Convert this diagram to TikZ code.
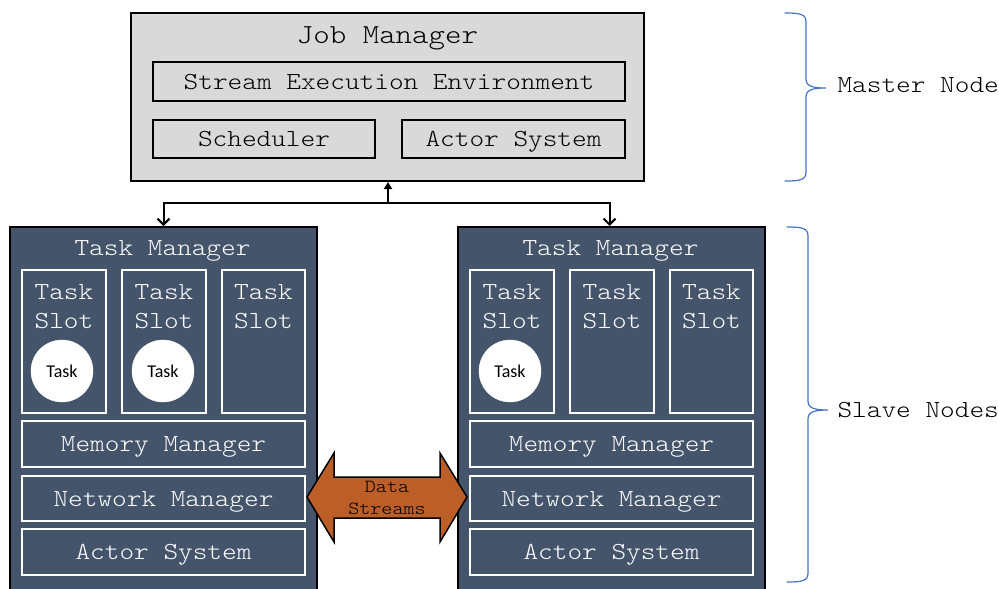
\documentclass[tikz,border=0pt]{standalone}
\usepackage{fontspec}
\setmonofont{Latin Modern Mono Light}[FakeStretch=1.14]
\newfontfamily\calfont{Carlito}
\usetikzlibrary{arrows.meta}
\definecolor{slate}{HTML}{44546A}
\definecolor{jmgray}{HTML}{D9D9D9}
\definecolor{streamorange}{RGB}{188,94,40}
\definecolor{braceblue}{HTML}{4472C4}
\begin{document}
\begin{tikzpicture}[x=1pt,y=-1pt,
  mono/.style={font=\ttfamily\fontsize{#1}{#1}\selectfont, text height=0.7*#1pt, text depth=0.08*#1pt},
  jmbox/.style={draw=black, line width=2pt, fill=jmgray, inner sep=0pt},
  jmpart/.style={draw=black, line width=2pt, fill=jmgray, inner sep=0pt, mono=24.5},
  tmbox/.style={draw=black, line width=2pt, fill=slate, inner sep=0pt},
  tmpart/.style={draw=white, line width=2pt, fill=slate, inner sep=0pt, text=white, mono=24.5},
  slotlabel/.style={text=white, align=center, font=\ttfamily\fontsize{24.5}{29}\selectfont},
  taskcirc/.style={circle, fill=white, draw=white, minimum size=62pt, inner sep=0pt,
    font=\calfont\fontsize{18}{18}\selectfont},
  link/.style={line width=2pt, black},
  brace/.style={draw=braceblue, line width=1.2pt, line cap=round},
  sidelabel/.style={anchor=west, mono=24.5}
]
\clip (0,0) rectangle (999,589);
\useasboundingbox (0,0) rectangle (999,589);

% Job manager
\node[jmbox, minimum width=513pt, minimum height=168pt] (jm) at (387.5,97) {};
\node[mono=27.5] (jmtitle) at (387.5,35) {Job Manager};
\node[jmpart, minimum width=472pt, minimum height=39pt] (see) at (389,81.5) {Stream Execution Environment};
\node[jmpart, minimum width=222pt, minimum height=38pt] (sched) at (264,139) {Scheduler};
\node[jmpart, minimum width=223pt, minimum height=38pt] (jmactor) at (513.5,139) {Actor System};

% Task managers
\foreach \s/\dx in {a/0,b/448}{
  \node[tmbox, minimum width=307pt, minimum height=367pt] (tm\s) at (163.5+\dx,410.5) {};
  \node[text=white, mono=24.5] (tmtitle\s) at (162.5+\dx,248) {Task Manager};
  \node[tmpart, minimum width=84pt, minimum height=143pt] (slot\s1) at (64+\dx,341.5) {};
  \node[tmpart, minimum width=84pt, minimum height=143pt] (slot\s2) at (164+\dx,341.5) {};
  \node[tmpart, minimum width=83pt, minimum height=143pt] (slot\s3) at (263.5+\dx,341.5) {};
  \foreach \k in {1,2,3}{
    \node[slotlabel] (slotlabel\s\k) at ([yshift=-38pt]slot\s\k.north) {Task\\Slot};
  }
  \node[tmpart, minimum width=283pt, minimum height=46pt] (mem\s) at (163.5+\dx,444) {Memory Manager};
  \node[tmpart, minimum width=283pt, minimum height=45pt] (net\s) at (163.5+\dx,498.5) {Network Manager};
  \node[tmpart, minimum width=283pt, minimum height=46pt] (act\s) at (163.5+\dx,552) {Actor System};
}

% Running tasks
\node[taskcirc] (taska1) at (62,371) {Task};
\node[taskcirc] (taska2) at (163,371) {Task};
\node[taskcirc] (taskb1) at (510,371) {Task};

% Job manager <-> task managers
\coordinate (j) at (388,203);
\draw[link, -{Triangle[length=7pt,width=8pt]}] (j) -- (j |- jm.south);
\draw[link, -{Straight Barb[length=6pt,width=12pt]}] (j) -| (tma.north);
\draw[link, -{Straight Barb[length=6pt,width=12pt]}] (j) -| ([xshift=-2pt]tmb.north);

% Data streams between network managers
\draw[line width=1.5pt, fill=streamorange, line join=miter]
  (307,497) -- (334,453) -- (334,477) -- (440,477) -- (440,453) -- (467,497)
  -- (440,542) -- (440,518) -- (334,518) -- (334,542) -- cycle;
\node[align=center, font=\ttfamily\fontsize{18.5}{22}\selectfont] (ds) at (387,498) {Data\\Streams};

% Braces
\draw[brace] (785,13) .. controls (800,13) and (806,14) .. (806,22) -- (806,79)
  .. controls (806,86) and (812,88) .. (826,88)
  .. controls (812,88) and (806,90) .. (806,97) -- (806,172)
  .. controls (806,180) and (800,181) .. (785,181);
\draw[brace] (787,227) .. controls (802,227) and (808,228) .. (808,236) -- (808,401)
  .. controls (808,408) and (814,410) .. (828,410)
  .. controls (814,410) and (808,412) .. (808,419) -- (808,573)
  .. controls (808,581) and (802,582) .. (787,582);
\node[sidelabel] (master) at (834,85) {Master Node};
\node[sidelabel] (slave) at (834,410) {Slave Nodes};
\end{tikzpicture}
\end{document}
